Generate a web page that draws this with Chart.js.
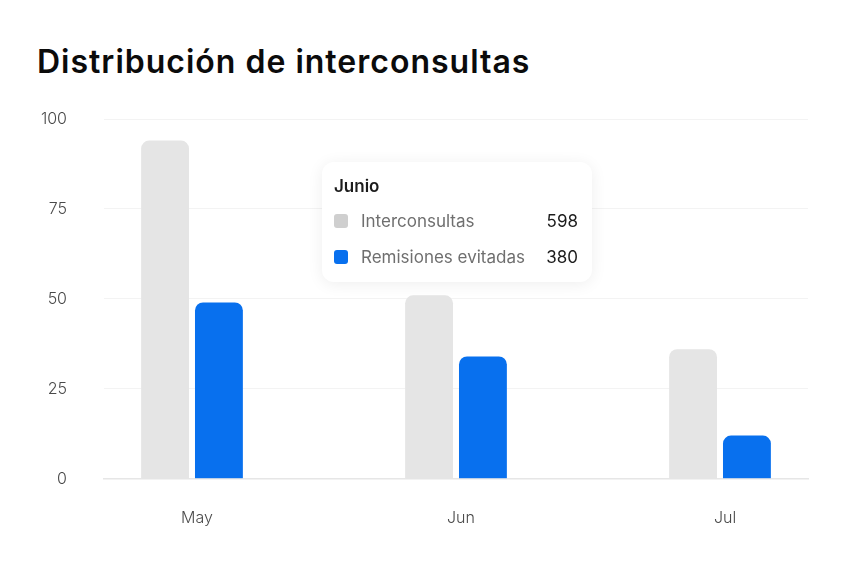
<!DOCTYPE html>
<html lang="es">
<head>
<meta charset="utf-8">
<title>Distribución de interconsultas</title>
<script src="https://cdn.jsdelivr.net/npm/chart.js@4.4.1/dist/chart.umd.min.js"></script>
<style>
  html, body { margin: 0; padding: 0; background: #fff; }
  body { width: 844px; height: 568px; position: relative; overflow: hidden; font-family: Inter, sans-serif; }
  h1 {
    position: absolute; left: 37px; top: 42px; margin: 0;
    font-size: 32px; font-weight: 600; color: #0b0b0b; letter-spacing: 1px;
  }
  #wrap { position: absolute; left: 0; top: 0; width: 844px; height: 568px; }
  .tip {
    position: absolute; left: 322px; top: 162px; width: 270px; height: 120px;
    background: #fff; border-radius: 12px; box-sizing: border-box;
    box-shadow: 0 2px 16px rgba(0, 0, 0, 0.07);
    padding: 13px 14px 0 12px;
  }
  .tip-title { font-size: 17px; font-weight: 600; color: #1c1c1c; height: 22px; line-height: 22px; margin-bottom: 6px; }
  .tip-row { display: flex; align-items: center; height: 36px; }
  .sw { width: 14px; height: 14px; border-radius: 3px; margin-right: 13px; }
  .lab { flex: 1; font-size: 17px; color: #6f6f6f; }
  .val { font-size: 17px; color: #1c1c1c; }
</style>
</head>
<body>
<h1>Distribución de interconsultas</h1>
<div id="wrap"><canvas id="myChart"></canvas></div>
<div class="tip" id="tip"></div>
<script>
const months = ['May', 'Jun', 'Jul']
const interconsultas = [94, 51, 36]
const remisiones = [49, 34, 12]
const yTicks = [0, 25, 50, 75, 100]

const tipTitle = 'Junio'
const tipLabels = ['Interconsultas', 'Remisiones evitadas']
const tipValues = [598, 380]
const tipColors = ['#cfcfcf', '#0870ee']

window.addEventListener('DOMContentLoaded', () => {
  const tip = document.querySelector('#tip')
  let html = '<div class="tip-title">' + tipTitle + '</div>'
  tipLabels.forEach((label, i) => {
    html += '<div class="tip-row"><span class="sw" style="background:' + tipColors[i] + '"></span>' +
      '<span class="lab">' + label + '</span><span class="val">' + tipValues[i] + '</span></div>'
  })
  tip.innerHTML = html

  const toPoints = values => values.map((v, i) => ({x: i, y: v}))

  new Chart('myChart', {
    type: 'bar',
    data: {
      datasets: [
        {
          label: tipLabels[0],
          data: toPoints(interconsultas),
          backgroundColor: '#e5e5e5',
          borderRadius: 8,
          borderSkipped: 'bottom',
          categoryPercentage: 0.408,
          barPercentage: 0.889,
        },
        {
          label: tipLabels[1],
          data: toPoints(remisiones),
          backgroundColor: '#0870ee',
          borderRadius: 8,
          borderSkipped: 'bottom',
          categoryPercentage: 0.408,
          barPercentage: 0.889,
        },
      ],
    },
    options: {
      responsive: true,
      maintainAspectRatio: false,
      animation: false,
      layout: {padding: {left: 20, right: 36, top: 119, bottom: 10}},
      plugins: {
        legend: {display: false},
        tooltip: {enabled: false},
      },
      scales: {
        x: {
          type: 'linear',
          offset: false,
          afterBuildTicks: axis => {
            axis.ticks = months.map((m, i) => ({value: i}))
            axis.min = -1 / 3
            axis.max = 7 / 3
          },
          ticks: {
            callback: value => months[value],
            color: '#4a4a4a',
            font: {family: 'Inter', size: 16, weight: 300},
            padding: 30,
            labelOffset: 5,
          },
          grid: {display: false, drawTicks: false},
          border: {color: '#e6e6e6', width: 1.5},
        },
        y: {
          min: 0,
          max: 100,
          afterBuildTicks: axis => {
            axis.ticks = yTicks.map(v => ({value: v}))
          },
          afterFit: axis => {
            axis.width = 84
          },
          ticks: {
            color: '#4a4a4a',
            font: {family: 'Inter', size: 16, weight: 300},
            padding: 37,
          },
          grid: {color: '#f3f3f3', drawTicks: false},
          border: {display: false},
        },
      },
    },
  })
})
</script>
</body>
</html>
